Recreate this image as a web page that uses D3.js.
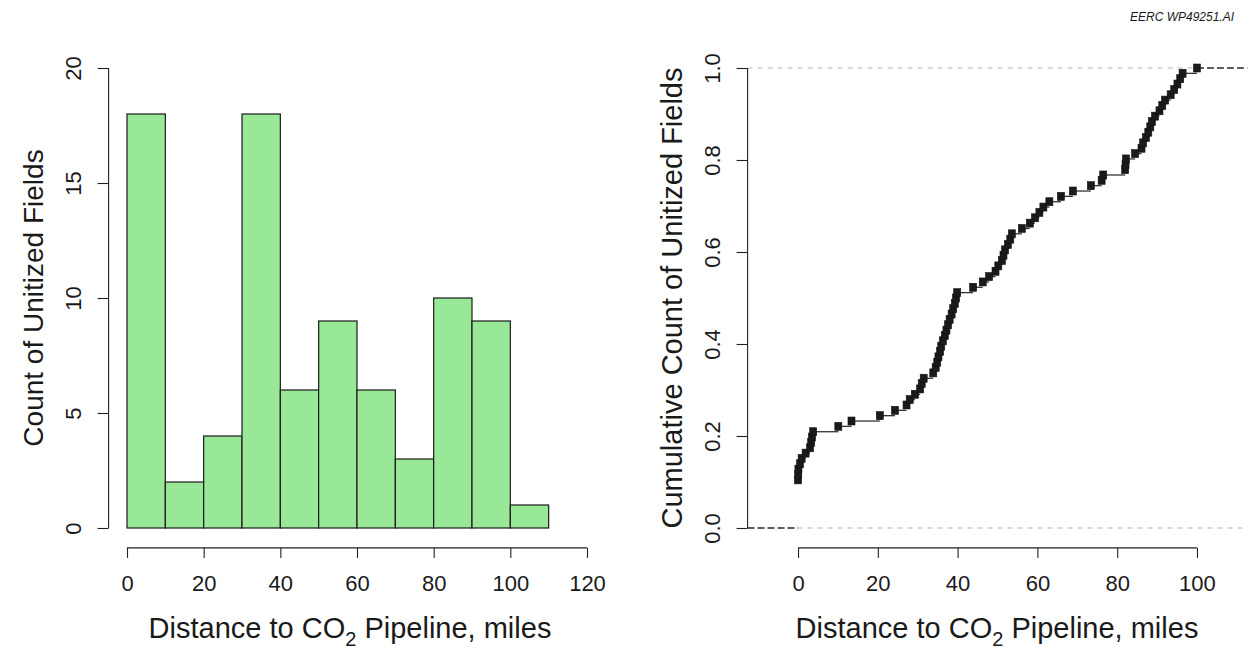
<!DOCTYPE html>
<html><head><meta charset="utf-8">
<script src="https://cdn.jsdelivr.net/npm/d3@7"></script>
<style>
body{margin:0;background:#fff}
text{font-family:"Liberation Sans",Arial,sans-serif;fill:#1a1a1a}
</style>
</head><body>
<svg id="c" width="1254" height="649"></svg>
<script>
// ---- data ----
const binEdges = [0,10,20,30,40,50,60,70,80,90,100,110];
const binCounts = [18,2,4,18,6,9,6,3,10,9,1];
const histXTicks = [0,20,40,60,80,100,120];
const histYTicks = [0,5,10,15,20];
const distances = [
  0,0,0,0,0,0,0,0,0,
  0.05,0.1,0.5,0.9,1.9,3.0,3.3,3.5,3.8,
  10.1,13.4,20.5,24.3,27.2,28.0,29.3,30.6,31.0,31.5,
  33.9,34.5,34.9,35.2,35.6,35.9,36.3,36.8,37.2,37.6,38.0,38.5,38.9,39.3,39.6,39.9,
  43.9,46.3,47.9,49.5,50.2,51.1,51.5,51.9,52.6,53.2,53.6,56.1,58.1,59.4,60.5,61.5,63.0,65.9,68.9,73.4,76.1,76.5,
  82.0,82.1,82.2,84.5,86.1,86.5,87.2,87.8,88.3,88.7,89.5,90.6,91.3,92.0,93.4,94.3,95.1,95.8,96.4,100.0
];
const ecdfXTicks = [0,20,40,60,80,100];
const ecdfYTicks = [0,0.2,0.4,0.6,0.8,1.0];
const xTitle = ["Distance to CO","2"," Pipeline, miles"];
const yTitleLeft = "Count of Unitized Fields";
const yTitleRight = "Cumulative Count of Unitized Fields";
const watermark = "EERC WP49251.AI";

// ---- setup ----
const svg = d3.select("#c");
svg.append("rect").attr("width",1254).attr("height",649).attr("fill","#fff");
const AX = "#222";

function styleAxis(g){
  g.selectAll("path,line").attr("stroke",AX).attr("stroke-width",1.1);
  g.selectAll("text").attr("font-size",22).attr("fill","#1a1a1a").attr("font-family",'"Liberation Sans",Arial,sans-serif');
}
function xTitleText(cx){
  const t = svg.append("text").attr("x",cx).attr("y",638).attr("text-anchor","middle").attr("font-size",29);
  t.append("tspan").text(xTitle[0]);
  t.append("tspan").attr("font-size",20).attr("dy",8).text(xTitle[1]);
  t.append("tspan").attr("dy",-8).text(xTitle[2]);
}
function yTitleText(bx,cy,s,size){
  svg.append("text").attr("transform",`translate(${bx},${cy}) rotate(-90)`)
    .attr("text-anchor","middle").attr("font-size",size).text(s);
}

// ---- left: histogram ----
const hx = d3.scaleLinear().domain([-4.8,124.8]).range([108.6,605.4]);
const hy = d3.scaleLinear().domain([-0.8,20.8]).range([546.4,49.6]);
const bins = binCounts.map((c,i)=>({x0:binEdges[i],x1:binEdges[i+1],c}));
svg.append("g").selectAll("rect").data(bins).join("rect")
  .attr("x",d=>hx(d.x0)).attr("width",d=>hx(d.x1)-hx(d.x0))
  .attr("y",d=>hy(d.c)).attr("height",d=>hy(0)-hy(d.c))
  .attr("fill","#98E898").attr("stroke","#1a1a1a").attr("stroke-width",1.2);

const hxa = svg.append("g").attr("transform",`translate(0,${hy.range()[0]+1.5})`)
  .call(d3.axisBottom(hx).tickValues(histXTicks).tickSize(10).tickSizeOuter(0));
hxa.select(".domain").attr("d",`M${hx(histXTicks[0])},0H${hx(histXTicks[histXTicks.length-1])}`);
hxa.selectAll("text").attr("y",43).attr("dy",0);
styleAxis(hxa);

const hya = svg.append("g").attr("transform",`translate(${hx.range()[0]},0)`)
  .call(d3.axisLeft(hy).tickValues(histYTicks).tickSize(11).tickSizeOuter(0));
hya.select(".domain").attr("d",`M0,${hy(histYTicks[0])}V${hy(histYTicks[histYTicks.length-1])}`);
hya.selectAll("text").attr("x",0).attr("y",0).attr("dy",0)
  .attr("text-anchor","middle").attr("transform","translate(-28,0) rotate(-90)");
styleAxis(hya);

xTitleText(350);
yTitleText(43,298,yTitleLeft,28);

// ---- right: ECDF ----
const ex = d3.scaleLinear().domain([-12.64,112.64]).range([747.6,1247.4]);
const ey = d3.scaleLinear().domain([-0.04,1.04]).range([546.4,49.6]);
const n = distances.length;
const sorted = distances.slice().sort(d3.ascending);
const uniq = Array.from(new Set(sorted));
const pts = uniq.map(v=>({x:v,f:d3.bisectRight(sorted,v)/n}));

// reference dashed lines at 0 and 1
[0,1].forEach(v=>{
  svg.append("line").attr("x1",ex.range()[0]).attr("x2",ex.range()[1])
    .attr("y1",ey(v)).attr("y2",ey(v))
    .attr("stroke","#b3b3b3").attr("stroke-width",1).attr("stroke-dasharray","5,5");
});
// step segments
const segs = [{x0:ex.domain()[0],x1:pts[0].x,f:0}];
pts.forEach((p,i)=>segs.push({x0:p.x,x1:i<pts.length-1?pts[i+1].x:ex.domain()[1],f:p.f}));
svg.append("g").selectAll("line").data(segs).join("line")
  .attr("x1",d=>ex(d.x0)).attr("x2",d=>ex(d.x1))
  .attr("y1",d=>ey(d.f)).attr("y2",d=>ey(d.f))
  .attr("stroke","#333").attr("stroke-width",1.3)
  .attr("stroke-dasharray",(d,i)=>(i===0||i===segs.length-1)?"7,3":null);
// points
svg.append("g").selectAll("rect").data(pts).join("rect")
  .attr("x",d=>ex(d.x)-3.5).attr("y",d=>ey(d.f)-4)
  .attr("width",7).attr("height",8).attr("fill","#1a1a1a")
  .attr("stroke","#111").attr("stroke-width",0.6);

const exa = svg.append("g").attr("transform",`translate(0,${ey.range()[0]+1.5})`)
  .call(d3.axisBottom(ex).tickValues(ecdfXTicks).tickSize(10).tickSizeOuter(0));
exa.select(".domain").attr("d",`M${ex(ecdfXTicks[0])},0H${ex(ecdfXTicks[ecdfXTicks.length-1])}`);
exa.selectAll("text").attr("y",43).attr("dy",0);
styleAxis(exa);

const eya = svg.append("g").attr("transform",`translate(${ex.range()[0]},0)`)
  .call(d3.axisLeft(ey).tickValues(ecdfYTicks).tickFormat(d3.format(".1f")).tickSize(11).tickSizeOuter(0));
eya.select(".domain").attr("d",`M0,${ey(ecdfYTicks[0])}V${ey(ecdfYTicks[ecdfYTicks.length-1])}`);
eya.selectAll("text").attr("x",0).attr("y",0).attr("dy",0)
  .attr("text-anchor","middle").attr("transform","translate(-28,0) rotate(-90)");
styleAxis(eya);

xTitleText(997);
yTitleText(682,298,yTitleRight,29);

// watermark
svg.append("text").attr("x",1234).attr("y",21).attr("text-anchor","end")
  .attr("font-size",12).attr("font-style","italic").attr("fill","#222").text(watermark);
</script>
</body></html>
